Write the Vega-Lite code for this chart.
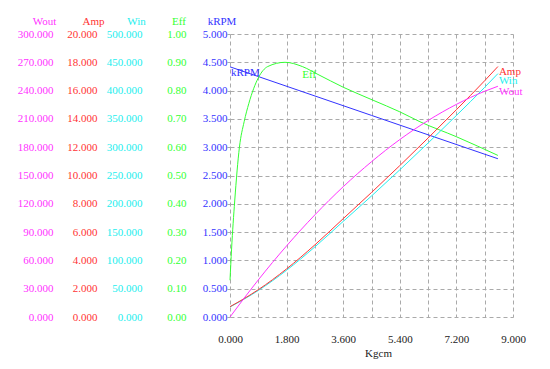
{
  "$schema": "https://vega.github.io/schema/vega-lite/v6.json",
  "width": 283,
  "height": 283,
  "autosize": "none",
  "padding": {"left": 230, "top": 34, "right": 37, "bottom": 52},
  "background": "white",
  "config": {
    "font": "Liberation Serif",
    "view": {"stroke": null},
    "axis": {
      "labelFont": "Liberation Serif",
      "titleFont": "Liberation Serif",
      "labelFontSize": 11,
      "titleFontSize": 11,
      "titleFontWeight": "normal",
      "domain": false,
      "gridColor": "#aaaaaa",
      "gridDash": [4, 3],
      "gridWidth": 1,
      "labelFlush": false,
      "labelOverlap": false
    },
    "text": {"font": "Liberation Serif", "fontSize": 11}
  },
  "datasets": {
    "curves": [
      {"s": "kRPM", "x": 0, "y": 4.42, "label": "kRPM"},
      {"s": "kRPM", "x": 4.5, "y": 3.562},
      {"s": "kRPM", "x": 8.52, "y": 2.796},
      {"s": "Eff", "x": 0, "y": 0.13},
      {"s": "Eff", "x": 0.05, "y": 0.24},
      {"s": "Eff", "x": 0.15, "y": 0.41},
      {"s": "Eff", "x": 0.3, "y": 0.6},
      {"s": "Eff", "x": 0.45, "y": 0.69},
      {"s": "Eff", "x": 0.6, "y": 0.755},
      {"s": "Eff", "x": 0.9, "y": 0.845},
      {"s": "Eff", "x": 1.2, "y": 0.885},
      {"s": "Eff", "x": 1.75, "y": 0.9},
      {"s": "Eff", "x": 2.3, "y": 0.885, "label": "Eff"},
      {"s": "Eff", "x": 2.8, "y": 0.857},
      {"s": "Eff", "x": 3.6, "y": 0.812},
      {"s": "Eff", "x": 4.55, "y": 0.766},
      {"s": "Eff", "x": 5.4, "y": 0.725},
      {"s": "Eff", "x": 6.04, "y": 0.69},
      {"s": "Eff", "x": 7.2, "y": 0.637},
      {"s": "Eff", "x": 8.52, "y": 0.571},
      {"s": "Win", "x": 0, "y": 17.7},
      {"s": "Win", "x": 0.45, "y": 31.6},
      {"s": "Win", "x": 0.9, "y": 46.9},
      {"s": "Win", "x": 1.8, "y": 82.6},
      {"s": "Win", "x": 2.7, "y": 123.9},
      {"s": "Win", "x": 3.6, "y": 168.9},
      {"s": "Win", "x": 4.5, "y": 213.8},
      {"s": "Win", "x": 5.4, "y": 260},
      {"s": "Win", "x": 6.3, "y": 307.4},
      {"s": "Win", "x": 7.2, "y": 356},
      {"s": "Win", "x": 8.1, "y": 405.8},
      {"s": "Win", "x": 8.52, "y": 430, "label": "Win"},
      {"s": "Amp", "x": 0, "y": 0.73},
      {"s": "Amp", "x": 0.45, "y": 1.3},
      {"s": "Amp", "x": 0.9, "y": 1.93},
      {"s": "Amp", "x": 1.8, "y": 3.4},
      {"s": "Amp", "x": 2.7, "y": 5.1},
      {"s": "Amp", "x": 3.6, "y": 6.95},
      {"s": "Amp", "x": 4.5, "y": 8.8},
      {"s": "Amp", "x": 5.4, "y": 10.7},
      {"s": "Amp", "x": 6.3, "y": 12.65},
      {"s": "Amp", "x": 7.2, "y": 14.65},
      {"s": "Amp", "x": 8.1, "y": 16.7},
      {"s": "Amp", "x": 8.52, "y": 17.7, "label": "Amp"},
      {"s": "Wout", "x": 0, "y": 0},
      {"s": "Wout", "x": 0.45, "y": 20},
      {"s": "Wout", "x": 0.9, "y": 39.3},
      {"s": "Wout", "x": 1.8, "y": 75.4},
      {"s": "Wout", "x": 2.7, "y": 108.3},
      {"s": "Wout", "x": 3.6, "y": 138.1},
      {"s": "Wout", "x": 4.5, "y": 164.6},
      {"s": "Wout", "x": 5.4, "y": 188.1},
      {"s": "Wout", "x": 6.3, "y": 208.3},
      {"s": "Wout", "x": 7.2, "y": 225.4},
      {"s": "Wout", "x": 8.1, "y": 239.3},
      {"s": "Wout", "x": 8.52, "y": 244.6, "label": "Wout"}
    ]
  },
  "data": {"name": "curves"},
  "encoding": {
    "x": {
      "field": "x",
      "type": "quantitative",
      "scale": {"domain": [0, 9], "nice": false, "zero": false},
      "axis": {
        "values": [0, 0.9, 1.8, 2.7, 3.6, 4.5, 5.4, 6.3, 7.2, 8.1, 9],
        "grid": true,
        "ticks": false,
        "labelExpr": "(round(datum.value*10) % 18 === 0) ? format(datum.value, '.3f') : ''",
        "labelColor": "#222222",
        "labelPadding": 22,
        "labelBaseline": "middle",
        "title": "Kgcm",
        "titleColor": "#222222",
        "titleX": 148,
        "titleY": 36,
        "titleAlign": "center",
        "titleBaseline": "middle"
      }
    }
  },
  "layer": [
    {
      "encoding": {
        "y": {
          "field": "y", "type": "quantitative",
          "scale": {"domain": [0, 5], "nice": false, "zero": false},
          "axis": {
            "orient": "left", "offset": 0,
            "values": [0, 0.5, 1, 1.5, 2, 2.5, 3, 3.5, 4, 4.5, 5],
            "format": ".3f", "grid": true, "ticks": true, "tickSize": 3, "tickColor": "#aaaaaa",
            "labelPadding": 0, "labelColor": "#3333ff",
            "title": "kRPM", "titleColor": "#3333ff", "titleAngle": 0,
            "titleX": -8.5, "titleY": -13, "titleAlign": "center", "titleBaseline": "middle"
          }
        }
      },
      "layer": [
        {"transform": [{"filter": "datum.s === 'kRPM'"}], "mark": {"type": "line", "color": "#3333ff", "strokeWidth": 1}},
        {"transform": [{"filter": "datum.s === 'kRPM' && datum.label"}], "mark": {"type": "text", "color": "#3333ff", "align": "left", "baseline": "middle", "dx": 1, "dy": 6}, "encoding": {"text": {"field": "label"}}}
      ]
    },
    {
      "encoding": {
        "y": {
          "field": "y", "type": "quantitative",
          "scale": {"domain": [0, 1], "nice": false, "zero": false},
          "axis": {
            "orient": "left", "offset": 44,
            "values": [0, 0.1, 0.2, 0.3, 0.4, 0.5, 0.6, 0.7, 0.8, 0.9, 1],
            "format": ".2f", "grid": false, "ticks": false, "tickSize": 0,
            "labelPadding": 0, "labelColor": "#33ff33",
            "title": "Eff", "titleColor": "#33ff33", "titleAngle": 0,
            "titleX": -7.5, "titleY": -13, "titleAlign": "center", "titleBaseline": "middle"
          }
        }
      },
      "layer": [
        {"transform": [{"filter": "datum.s === 'Eff'"}], "mark": {"type": "line", "color": "#33ff33", "strokeWidth": 1, "interpolate": "monotone"}},
        {"transform": [{"filter": "datum.s === 'Eff' && datum.label"}], "mark": {"type": "text", "color": "#33ff33", "align": "left", "baseline": "middle", "dx": 0, "dy": 8}, "encoding": {"text": {"field": "label"}}}
      ]
    },
    {
      "encoding": {
        "y": {
          "field": "y", "type": "quantitative",
          "scale": {"domain": [0, 500], "nice": false, "zero": false},
          "axis": {
            "orient": "left", "offset": 88,
            "values": [0, 50, 100, 150, 200, 250, 300, 350, 400, 450, 500],
            "format": ".3f", "grid": false, "ticks": false, "tickSize": 0,
            "labelPadding": 0, "labelColor": "#22eeee",
            "title": "Win", "titleColor": "#22eeee", "titleAngle": 0,
            "titleX": -6, "titleY": -13, "titleAlign": "center", "titleBaseline": "middle"
          }
        }
      },
      "layer": [
        {"transform": [{"filter": "datum.s === 'Win'"}], "mark": {"type": "line", "color": "#22eeee", "strokeWidth": 1, "interpolate": "monotone"}},
        {"transform": [{"filter": "datum.s === 'Win' && datum.label"}], "mark": {"type": "text", "color": "#22eeee", "align": "left", "baseline": "middle", "dx": 1, "dy": 7}, "encoding": {"text": {"field": "label"}}}
      ]
    },
    {
      "encoding": {
        "y": {
          "field": "y", "type": "quantitative",
          "scale": {"domain": [0, 20], "nice": false, "zero": false},
          "axis": {
            "orient": "left", "offset": 133,
            "values": [0, 2, 4, 6, 8, 10, 12, 14, 16, 18, 20],
            "format": ".3f", "grid": false, "ticks": false, "tickSize": 0,
            "labelPadding": 0, "labelColor": "#ff3333",
            "title": "Amp", "titleColor": "#ff3333", "titleAngle": 0,
            "titleX": -4, "titleY": -13, "titleAlign": "center", "titleBaseline": "middle"
          }
        }
      },
      "layer": [
        {"transform": [{"filter": "datum.s === 'Amp'"}], "mark": {"type": "line", "color": "#ff3333", "strokeWidth": 1, "interpolate": "monotone"}},
        {"transform": [{"filter": "datum.s === 'Amp' && datum.label"}], "mark": {"type": "text", "color": "#ff3333", "align": "left", "baseline": "middle", "dx": 1, "dy": 5}, "encoding": {"text": {"field": "label"}}}
      ]
    },
    {
      "encoding": {
        "y": {
          "field": "y", "type": "quantitative",
          "scale": {"domain": [0, 300], "nice": false, "zero": false},
          "axis": {
            "orient": "left", "offset": 177,
            "values": [0, 30, 60, 90, 120, 150, 180, 210, 240, 270, 300],
            "format": ".3f", "grid": false, "ticks": false, "tickSize": 0,
            "labelPadding": 0, "labelColor": "#ff33ff",
            "title": "Wout", "titleColor": "#ff33ff", "titleAngle": 0,
            "titleX": -9, "titleY": -13, "titleAlign": "center", "titleBaseline": "middle"
          }
        }
      },
      "layer": [
        {"transform": [{"filter": "datum.s === 'Wout'"}], "mark": {"type": "line", "color": "#ff33ff", "strokeWidth": 1, "interpolate": "monotone"}},
        {"transform": [{"filter": "datum.s === 'Wout' && datum.label"}], "mark": {"type": "text", "color": "#ff33ff", "align": "left", "baseline": "middle", "dx": 1, "dy": 6}, "encoding": {"text": {"field": "label"}}}
      ]
    }
  ],
  "resolve": {"scale": {"y": "independent"}}
}
